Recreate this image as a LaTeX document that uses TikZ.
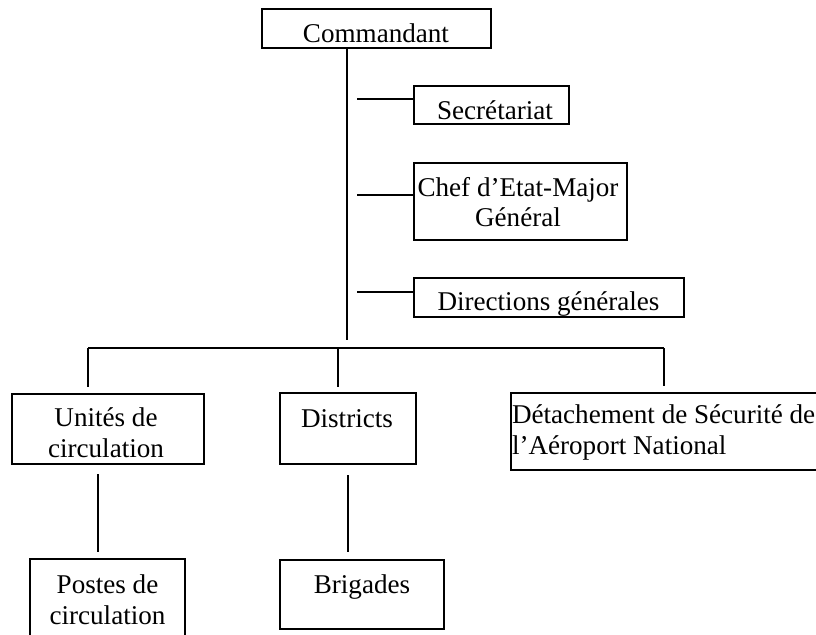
\documentclass[tikz,border=0pt]{standalone}
\usepackage{fontspec}
\setmainfont{Liberation Serif}
\begin{document}
\begin{tikzpicture}[x=1bp,y=-1bp,
  box/.style={draw=black, line width=2.8bp, rectangle, inner sep=0pt, outer sep=0pt, fill=white},
  txt/.style={inner sep=0pt, outer sep=0pt, font=\fontsize{27.2}{31}\selectfont, align=center},
  link/.style={draw=black, line width=2.8bp}]
\useasboundingbox (0,0) rectangle (816,635);
\clip (0,0) rectangle (816,635);
\fill[white] (0,0) rectangle (816,635);
% boxes
\node[box, minimum width=229bp, minimum height=39bp] (cmd) at (376.5,28.5) {};
\node[box, minimum width=155bp, minimum height=38bp] (sec) at (491.5,105) {};
\node[box, minimum width=213bp, minimum height=77bp] (chef) at (520.5,201.5) {};
\node[box, minimum width=270bp, minimum height=39bp] (dir) at (549,297.5) {};
\node[box, minimum width=192bp, minimum height=70bp] (uni) at (108,429) {};
\node[box, minimum width=136bp, minimum height=71bp] (dis) at (348,428.5) {};
\node[box, minimum width=311bp, minimum height=77bp] (det) at (666.5,431.5) {};
\node[box, minimum width=155bp, minimum height=91bp] (pos) at (107.5,604.5) {};
\node[box, minimum width=164bp, minimum height=69bp] (bri) at (362,594.5) {};
% texts (base anchor = baseline of last line)
\node[txt, anchor=base] (cmdt) at (376,43) {Commandant};
\node[txt, anchor=base] (sect) at (495,120) {Secrétariat};
\node[txt, anchor=base] (cheft) at (518,227) {Chef d’Etat-Major\\Général};
\node[txt, anchor=base] (dirt) at (548.5,310) {Directions générales};
\node[txt, anchor=base] (unit) at (106,457) {Unités de\\circulation};
\node[txt, anchor=base] (dist) at (347,427) {Districts};
\node[txt, anchor=base west, align=left] (dett) at (512,454) {Détachement de Sécurité de\\l’Aéroport National};
\node[txt, anchor=base] (post) at (107.5,624) {Postes de\\circulation};
\node[txt, anchor=base] (brit) at (362,593) {Brigades};
% coordinates
\coordinate (spinetop) at (347,48);
\coordinate (spinebot) at (347,340);
\coordinate (bsec) at (357,99);
\coordinate (bchef) at (357,195);
\coordinate (bdir) at (357,292);
\coordinate (busL) at (88,348);
\coordinate (busM) at (338,348);
\coordinate (busR) at (664,348);
\coordinate (dropL) at (88,387);
\coordinate (dropM) at (338,387);
\coordinate (dropR) at (664,386);
\coordinate (uniB) at (98,474);
\coordinate (posT) at (98,552);
\coordinate (disB) at (348,475);
\coordinate (briT) at (348,552);
% connectors
\draw[link] (spinetop) -- (spinebot);
\draw[link] (bsec) -- (bsec -| sec.west);
\draw[link] (bchef) -- (bchef -| chef.west);
\draw[link] (bdir) -- (bdir -| dir.west);
\draw[link] (busL) -- (busR);
\draw[link] (busL) -- (dropL);
\draw[link] (busM) -- (dropM);
\draw[link] (busR) -- (dropR);
\draw[link] (uniB) -- (posT);
\draw[link] (disB) -- (briT);
\end{tikzpicture}
\end{document}
